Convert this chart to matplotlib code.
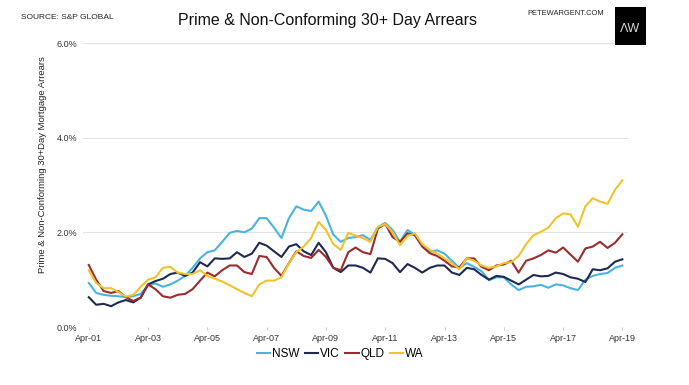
import matplotlib
matplotlib.use("Agg")
import matplotlib.pyplot as plt
import matplotlib.dates as mdates
import pandas as pd
from matplotlib.patches import Rectangle

plt.rcParams['font.family'] = ['Liberation Sans', 'DejaVu Sans']

dates = pd.date_range('2001-04-01', '2019-04-01', freq='QS-APR')

nsw = [0.93, 0.72, 0.68, 0.66, 0.65, 0.63, 0.65, 0.70, 0.88, 0.92,
       0.85, 0.90, 0.98, 1.08, 1.25, 1.45, 1.58, 1.62, 1.80, 1.99,
       2.03, 2.00, 2.08, 2.30, 2.30, 2.10, 1.88, 2.30, 2.55, 2.48,
       2.45, 2.65, 2.35, 1.95, 1.80, 1.88, 1.90, 1.94, 1.84, 2.11,
       2.20, 2.05, 1.80, 2.05, 1.95, 1.70, 1.59, 1.62, 1.55, 1.40,
       1.25, 1.35, 1.27, 1.18, 0.99, 1.05, 1.05, 0.90, 0.78, 0.85,
       0.86, 0.89, 0.83, 0.90, 0.88, 0.82, 0.78, 1.00, 1.08, 1.12,
       1.14, 1.25, 1.30]

vic = [0.63, 0.47, 0.49, 0.44, 0.52, 0.57, 0.52, 0.62, 0.90, 0.97,
       1.02, 1.12, 1.15, 1.08, 1.15, 1.37, 1.28, 1.45, 1.44, 1.45,
       1.58, 1.48, 1.55, 1.78, 1.72, 1.60, 1.48, 1.70, 1.75, 1.60,
       1.52, 1.78, 1.58, 1.25, 1.16, 1.30, 1.30, 1.25, 1.15, 1.45,
       1.44, 1.35, 1.16, 1.33, 1.25, 1.15, 1.25, 1.30, 1.30, 1.15,
       1.10, 1.25, 1.22, 1.10, 1.00, 1.08, 1.06, 0.98, 0.90, 1.00,
       1.10, 1.07, 1.08, 1.15, 1.12, 1.05, 1.02, 0.95, 1.22, 1.20,
       1.24, 1.38, 1.43]

qld = [1.31, 1.00, 0.76, 0.72, 0.76, 0.63, 0.55, 0.62, 0.90, 0.80,
       0.65, 0.62, 0.68, 0.70, 0.80, 0.98, 1.15, 1.07, 1.20, 1.30,
       1.30, 1.16, 1.12, 1.50, 1.48, 1.25, 1.08, 1.35, 1.60, 1.50,
       1.46, 1.63, 1.48, 1.25, 1.20, 1.58, 1.68, 1.58, 1.54, 2.08,
       2.18, 1.90, 1.80, 1.98, 1.94, 1.70, 1.56, 1.50, 1.40, 1.28,
       1.26, 1.45, 1.45, 1.27, 1.20, 1.30, 1.32, 1.40, 1.15, 1.40,
       1.45, 1.52, 1.62, 1.57, 1.68, 1.53, 1.38, 1.66, 1.70, 1.80,
       1.67, 1.78, 1.96]

wa = [1.20, 0.93, 0.82, 0.82, 0.74, 0.64, 0.68, 0.85, 1.00, 1.05,
      1.25, 1.27, 1.15, 1.12, 1.12, 1.20, 1.08, 1.02, 0.96, 0.88,
      0.80, 0.72, 0.65, 0.90, 0.98, 0.98, 1.05, 1.35, 1.58, 1.70,
      1.88, 2.22, 2.05, 1.75, 1.63, 1.99, 1.93, 1.88, 1.80, 2.11,
      2.18, 2.00, 1.73, 1.92, 1.98, 1.75, 1.63, 1.55, 1.45, 1.35,
      1.22, 1.45, 1.40, 1.30, 1.25, 1.28, 1.35, 1.37, 1.50, 1.75,
      1.94, 2.01, 2.10, 2.30, 2.40, 2.38, 2.12, 2.55, 2.72, 2.65,
      2.60, 2.90, 3.10]

series_names = ['NSW', 'VIC', 'QLD', 'WA']
series_values = [nsw, vic, qld, wa]
series_colors = ['#4AB3DE', '#1E2A4F', '#9A2C2E', '#EEC42B']

yticks = [0, 2, 4, 6]
ytick_labels = ['0.0%', '2.0%', '4.0%', '6.0%']
xtick_dates = pd.date_range('2001-04-01', '2019-04-01', freq='24MS')

fig = plt.figure(figsize=(6.89, 3.85), dpi=100)
ax = fig.add_axes([0.1205, 0.1506, 0.791, 0.7377])

for name, vals, col in zip(series_names, series_values, series_colors):
    ax.plot(dates, vals, color=col, lw=1.5, label=name)

ax.set_ylim(0, 6)
ax.set_xlim(pd.Timestamp('2001-01-20'), pd.Timestamp('2019-06-10'))
ax.set_yticks(yticks)
ax.set_yticklabels(ytick_labels)
ax.set_xticks(xtick_dates)
ax.xaxis.set_major_formatter(mdates.DateFormatter('%b-%y'))
ax.grid(axis='y', color='#e3e3e3', lw=0.8)
ax.set_axisbelow(True)
for s in ax.spines.values():
    s.set_visible(False)
ax.tick_params(axis='y', length=0, labelsize=6.5, labelcolor='#333333', pad=4)
ax.tick_params(axis='x', length=2, color='#cccccc', labelsize=6.5, labelcolor='#333333', pad=3)

fig.text(0.062, 0.572, 'Prime & Non-Conforming 30+Day Mortgage Arrears', rotation=90,
         ha='center', va='center', fontsize=6.8, color='#222222')

fig.text(0.475, 0.947, 'Prime & Non-Conforming 30+ Day Arrears', ha='center',
         va='center', fontsize=11.5, color='#111111')
fig.text(0.03, 0.955, 'SOURCE: S&P GLOBAL', ha='left', va='center',
         fontsize=6, color='#222222')
fig.text(0.765, 0.966, 'PETEWARGENT.COM', ha='left', va='center',
         fontsize=5.4, color='#222222')
fig.patches.append(Rectangle((0.892, 0.883), 0.046, 0.098, transform=fig.transFigure,
                             facecolor='black', edgecolor='none'))
fig.text(0.915, 0.925, 'ΛW', ha='center', va='center', fontsize=9,
         color='#d8d8d8')

leg = ax.legend(loc='center', bbox_to_anchor=(0.472, -0.095), ncol=4,
                frameon=False, fontsize=8.5, handlelength=1.15, handletextpad=0.15,
                columnspacing=0.45)

fig.savefig('out.png', dpi=100, facecolor='white')
